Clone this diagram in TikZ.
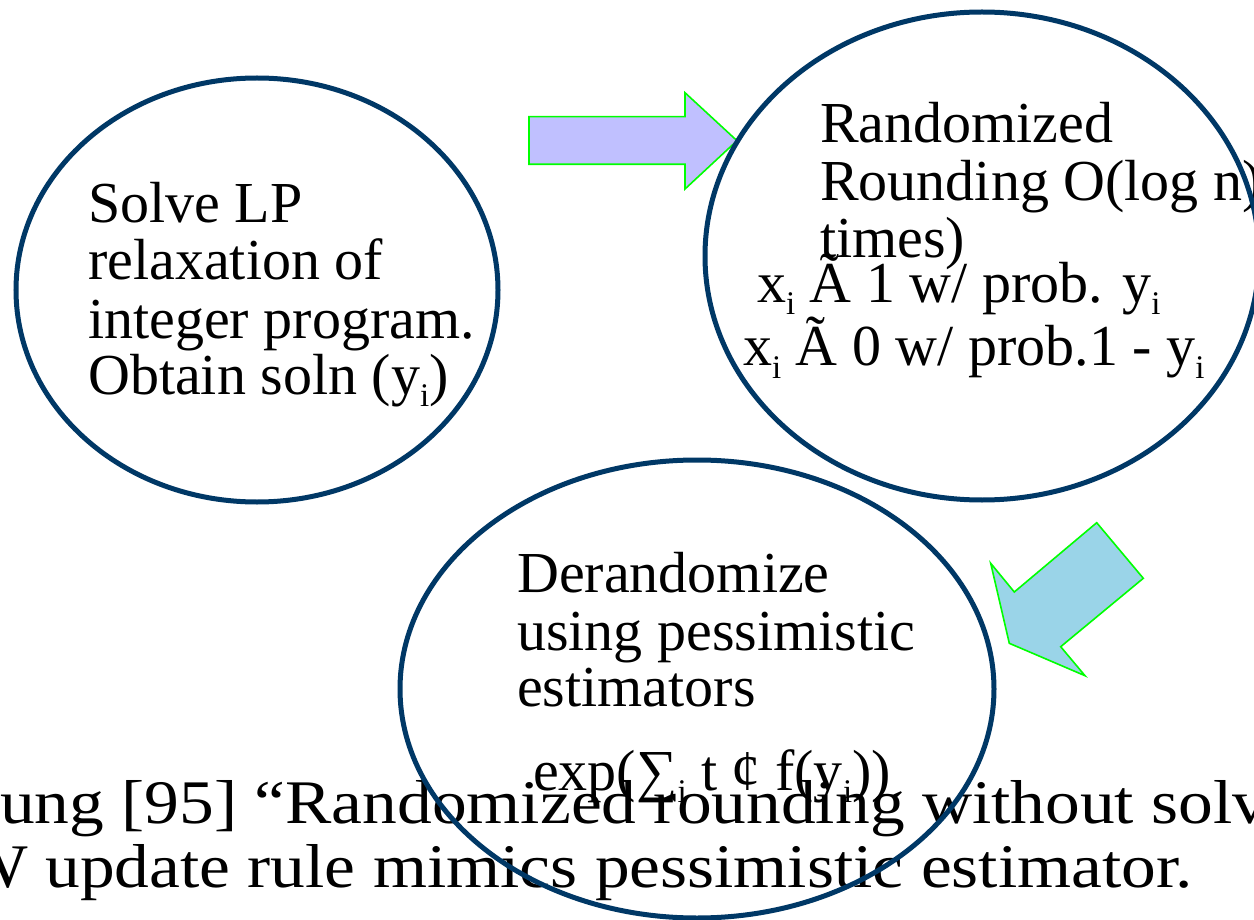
\documentclass[tikz,border=0pt]{standalone}
\usepackage{fontspec}
\setmainfont{Liberation Serif}
\newfontfamily\capfont[FakeStretch=1.12]{Liberation Serif}
\newcommand\subi{\raisebox{-0.22em}{\fontsize{33}{33}\selectfont i}}
\definecolor{navy}{RGB}{0,56,102}
\definecolor{lav}{RGB}{192,192,255}
\definecolor{skyb}{RGB}{154,212,232}
\definecolor{grn}{RGB}{0,255,0}
\tikzset{
  bubble/.style={draw=navy,line width=5pt},
  blockarrow/.style={draw=grn,line width=1.6pt,line join=miter},
  txt/.style={anchor=base west,inner sep=0pt,font=\fontsize{58}{58}\selectfont},
  captxt/.style={inner sep=0pt,font=\capfont\fontsize{62}{62}\selectfont},
}
\begin{document}
\begin{tikzpicture}[x=1pt,y=-1pt]
\useasboundingbox (0,0) rectangle (1254,920);
\clip (0,0) rectangle (1254,920);
\fill[white] (0,0) rectangle (1254,920);
% block arrows
\filldraw[blockarrow,fill=lav] (529,116.7) -- (685,116.7) -- (685,92.7) -- (737,140.7) -- (685,189) -- (685,164.3) -- (529,164.3) -- cycle;
\filldraw[blockarrow,fill=skyb] (1096.7,522.7) -- (1143.3,578.3) -- (1060.7,646.7) -- (1085,675.7) -- (1009.3,643.3) -- (990.7,563.3) -- (1014.3,592) -- cycle;
% left bubble text
\node[txt] (l1) at (88,223) {Solve LP};
\node[txt] (l2) at (88,280) {relaxation of};
\node[txt] (l3) at (88,338) {integer program.};
\node[txt] (l4) at (88,394) {Obtain soln (y\subi)};
% right bubble text
\node[txt] (r1) at (820,143) {Randomized};
\node[txt] (r2) at (820,201) {Rounding O(log n)};
\node[txt] (r3) at (820,258) {times)};
\node[txt] (r4) at (757,302) {x\subi{} Ã 1 w/ prob. y\subi};
\node[txt] (r5) at (743,366) {x\subi{} Ã 0 w/ prob.1 - y\subi};
% bottom bubble text
\node[txt] (b1) at (517,592) {Derandomize};
\node[txt] (b2) at (517,650) {using pessimistic};
\node[txt] (b3) at (517,706) {estimators};
\node[txt] (b4) at (533,790) {exp(∑\subi{} t ¢ f(y\subi))};
% caption
\node[captxt,anchor=base west] (c1) at (0,823) {ung [95] “Randomized rounding without solv};
\node[captxt,anchor=base east] (c2) at (1193,887) {W update rule mimics pessimistic estimator.};
% bubbles
\draw[bubble] (257,290) ellipse [x radius=241,y radius=212];
\draw[bubble] (982,256) ellipse [x radius=277,y radius=244];
\draw[bubble] (697,689) ellipse [x radius=297,y radius=229];
\end{tikzpicture}
\end{document}
